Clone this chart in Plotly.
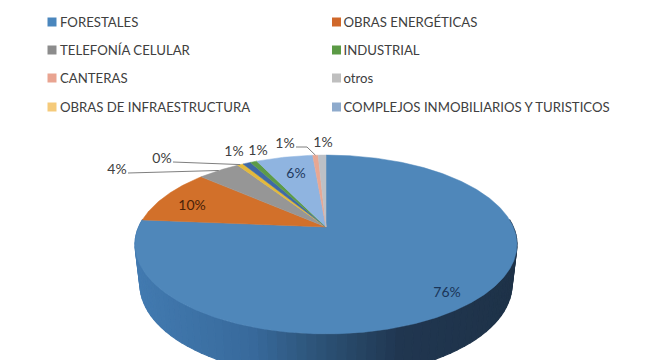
import math
import plotly.graph_objects as go

# Slices, clockwise from 12 o'clock
categories = ["FORESTALES", "OBRAS ENERGÉTICAS", "TELEFONÍA CELULAR", "OBRAS DE INFRAESTRUCTURA",
              "Sin leyenda", "INDUSTRIAL", "COMPLEJOS INMOBILIARIOS Y TURISTICOS", "CANTERAS", "otros"]
values = [76.3, 10.1, 4.3, 0.6, 0.8, 0.7, 5.8, 0.55, 0.8]
labels = ["76%", "10%", "4%", "0%", "1%", "1%", "6%", "1%", "1%"]
colors = ["#4F87BA", "#D2702A", "#969696", "#E3B93B", "#3F69A6", "#5D9B48", "#8FB4E0", "#E8A792", "#BCC0C6"]

# Legend
legend_col1 = ["FORESTALES", "TELEFONÍA CELULAR", "CANTERAS", "OBRAS DE INFRAESTRUCTURA"]
legend_col1_colors = ["#4A86BD", "#8C8C8C", "#E9A491", "#F5CA7A"]
legend_col2 = ["OBRAS ENERGÉTICAS", "INDUSTRIAL", "otros", "COMPLEJOS INMOBILIARIOS Y TURISTICOS"]
legend_col2_colors = ["#D0682A", "#5B9A45", "#BFBFBF", "#8EAACC"]
legend_rows = [22, 50, 78, 107]

# Projection of the tilted disc (pixels)
CX, CY, A, B, K = 326, 227, 187.3, 86, 0.1955
WALL_SHRINK_X, WALL_SHRINK_Y, WALL_DROP = 0.974, 1.033, 40
ELLIPSE_CY = 245
FONT = "Lato, Carlito, sans-serif"
TEXT = "#404040"
TEXT_NUDGE = 1.5

# Wall shading stops: (x pixel, rgb)
wall_stops = [(135, (66, 122, 176)), (250, (56, 106, 156)), (320, (44, 82, 118)),
              (400, (32, 54, 80)), (517, (30, 50, 72))]


def rim(deg):
    X, Y = math.sin(math.radians(deg)), math.cos(math.radians(deg))
    w = 1 + K * Y
    return CX + A * X / w, CY - B * Y / w


def rim_bottom(deg):
    px, py = rim(deg)
    return CX + (px - CX) * WALL_SHRINK_X, ELLIPSE_CY + WALL_DROP + (py - ELLIPSE_CY) * WALL_SHRINK_Y


def wall_colour(x):
    for (x0, c0), (x1, c1) in zip(wall_stops, wall_stops[1:]):
        if x <= x1:
            t = max(0.0, (x - x0) / (x1 - x0))
            c = [round(c0[j] + (c1[j] - c0[j]) * t) for j in range(3)]
            return f"rgb({c[0]},{c[1]},{c[2]})"
    return "rgb(30,50,72)"


fig = go.Figure()

# Side wall: shaded quads along the front of the disc
STEP = 2.5
d = 85.0
while d < 275.0:
    d2 = d + STEP
    a, b, c_, e = rim(d), rim(d2), rim_bottom(d2), rim_bottom(d)
    col = wall_colour((a[0] + b[0]) / 2)
    fig.add_trace(go.Scatter(x=[a[0], b[0], c_[0], e[0], a[0]], y=[a[1], b[1], c_[1], e[1], a[1]],
                             mode="lines", fill="toself", fillcolor=col,
                             line=dict(width=1.2, color=col), hoverinfo="skip", showlegend=False))
    d = d2

# Top face slices
total = sum(values)
angle = 0.0
mids = []
for name, v, col in zip(categories, values, colors):
    sweep = v / total * 360
    steps = max(2, int(sweep * 2))
    pts = [rim(angle + sweep * s / steps) for s in range(steps + 1)]
    xs = [CX] + [p[0] for p in pts] + [CX]
    ys = [CY] + [p[1] for p in pts] + [CY]
    fig.add_trace(go.Scatter(x=xs, y=ys, mode="lines", fill="toself", fillcolor=col,
                             line=dict(width=0.5, color=col), name=name,
                             hoverinfo="name", showlegend=False))
    mids.append(angle + sweep / 2)
    angle += sweep

# Data labels
label_x = [447, 192, 117, 162, 234, 258, 296, 285, 323]
label_y = [292, 205, 169, 158, 151, 150, 173, 143, 142]
label_colors = ["#1B3558", "#4A2208", TEXT, TEXT, TEXT, TEXT, "#1F3A60", TEXT, TEXT]
fig.add_trace(go.Scatter(x=label_x, y=[v + TEXT_NUDGE for v in label_y], mode="text", text=labels,
                         textposition="middle center",
                         textfont=dict(family=FONT, size=14, color=label_colors),
                         hoverinfo="skip", showlegend=False))

# Leader lines from label to slice rim
for idx, lx, ly in [(2, [128], [173]), (3, [173], [162]), (7, [296, 307], [147, 147])]:
    tx, ty = rim(mids[idx])
    fig.add_trace(go.Scatter(x=lx + [tx], y=ly + [ty], mode="lines",
                             line=dict(color="#7F7F7F", width=1),
                             hoverinfo="skip", showlegend=False))

# Legend
for x_sw, x_txt, names, cols in [(52, 60, legend_col1, legend_col1_colors),
                                 (336.5, 343.5, legend_col2, legend_col2_colors)]:
    fig.add_trace(go.Scatter(x=[x_sw] * 4, y=legend_rows, mode="markers",
                             marker=dict(symbol="square", size=9, color=cols),
                             hoverinfo="skip", showlegend=False))
    fig.add_trace(go.Scatter(x=[x_txt] * 4, y=[v + TEXT_NUDGE for v in legend_rows], mode="text", text=names,
                             textposition="middle right",
                             textfont=dict(family=FONT, size=13.2, color=TEXT),
                             hoverinfo="skip", showlegend=False))

fig.update_layout(width=645, height=360, margin=dict(l=0, r=0, t=0, b=0),
                  paper_bgcolor="#FFFFFF", plot_bgcolor="#FFFFFF",
                  xaxis=dict(range=[0, 645], visible=False, fixedrange=True),
                  yaxis=dict(range=[360, 0], visible=False, fixedrange=True))
fig.write_html("out.html", config={"displayModeBar": False},
               post_script="document.body.style.margin='0';document.body.style.overflow='hidden';")
